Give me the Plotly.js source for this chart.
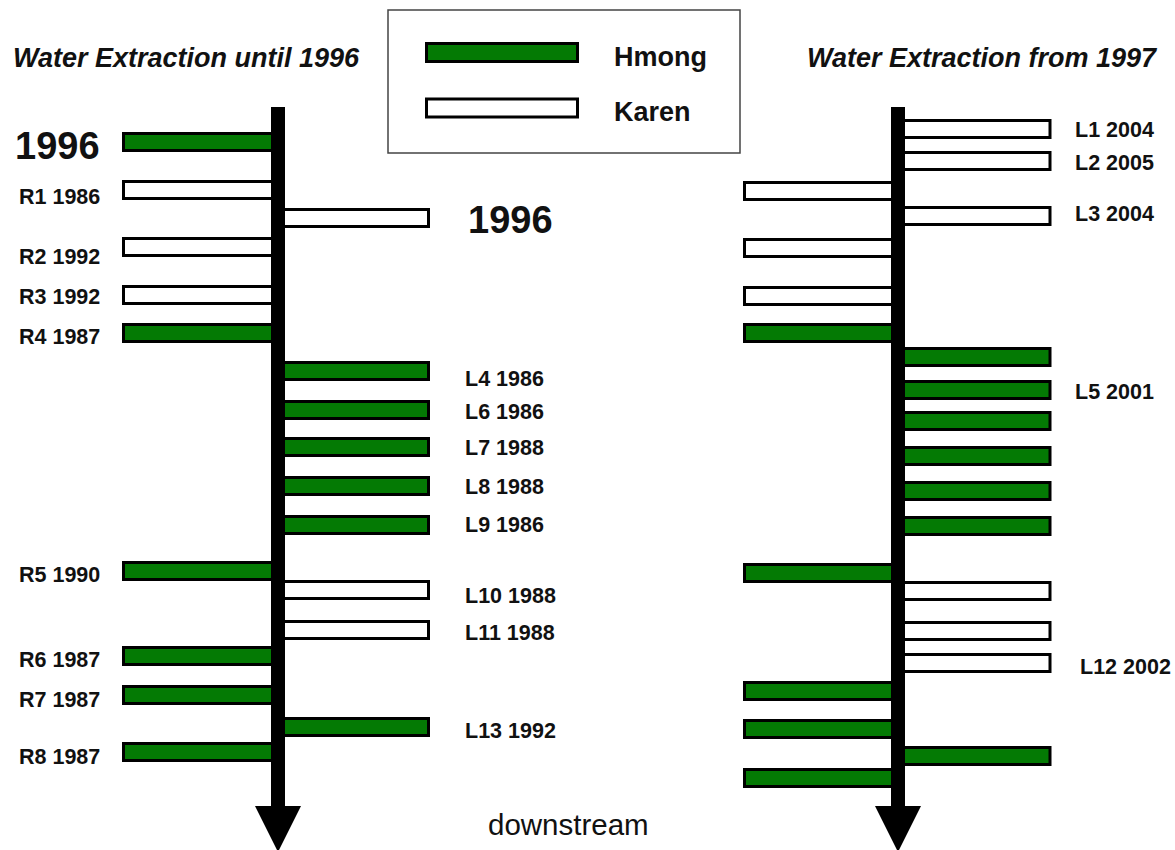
<!DOCTYPE html>
<html>
<head>
<meta charset="utf-8">
<script src="https://cdn.plot.ly/plotly-3.0.1.min.js"></script>
<style>html,body{margin:0;padding:0;background:#fff}#chart{width:1175px;height:850px}</style>
</head>
<body>
<div id="chart"></div>
<script>
// ---- DATA: water extraction points along the river (position downstream) ----
// Panel 1: until 1996
const untilPos    = [142, 190, 218, 247, 295, 333, 371, 410, 447, 486, 525, 571, 590, 630, 656, 695, 727, 752];
const untilBank   = ['R','R','L','R','R','R','L','L','L','L','L','R','L','L','R','R','L','R'];
const untilGroup  = ['Hmong','Karen','Karen','Karen','Karen','Hmong','Hmong','Hmong','Hmong','Hmong','Hmong','Hmong','Karen','Karen','Hmong','Hmong','Hmong','Hmong'];
const untilLabel  = ['1996','R1 1986','1996','R2 1992','R3 1992','R4 1987','L4 1986','L6 1986','L7 1988','L8 1988','L9 1986','R5 1990','L10 1988','L11 1988','R6 1987','R7 1987','L13 1992','R8 1987'];
const untilLabelAt= [146, 197, 220, 257, 297, 337, 379, 412, 448, 487, 525, 575, 596, 633, 660, 700, 731, 757];

// Panel 2: from 1997
const fromPos     = [129, 161, 191, 216, 248, 296, 333, 357, 390, 421, 456, 491, 526, 573, 591, 631, 663, 691, 729, 756, 778];
const fromBank    = ['L','L','R','L','R','R','R','L','L','L','L','L','L','R','L','L','L','R','R','L','R'];
const fromGroup   = ['Karen','Karen','Karen','Karen','Karen','Karen','Hmong','Hmong','Hmong','Hmong','Hmong','Hmong','Hmong','Hmong','Karen','Karen','Karen','Hmong','Hmong','Hmong','Hmong'];
const fromLabel   = ['L1 2004','L2 2005','','L3 2004','','','','','L5 2001','','','','','','','','L12 2002','','','',''];
const fromLabelAt = [130, 163, 191, 214, 248, 296, 333, 357, 392, 421, 456, 491, 526, 573, 591, 631, 667, 691, 729, 756, 778];

const groups = ['Hmong', 'Karen'];
const panelTitles = ['Water Extraction until 1996', 'Water Extraction from 1997'];

// ---- STYLE / LAYOUT ----
const GREEN = '#047a04';
const fillFor = {Hmong: GREEN, Karen: '#ffffff'};
const panels = [
  {pos: untilPos, bank: untilBank, group: untilGroup, label: untilLabel, labelAt: untilLabelAt,
   river: 278, reachLeft: 154.5, reachRight: 150.5, labelLeftX: 102, labelRightX: 463, titleX: 11},
  {pos: fromPos, bank: fromBank, group: fromGroup, label: fromLabel, labelAt: fromLabelAt,
   river: 898, reachLeft: 153.5, reachRight: 152, labelLeftX: 722, labelRightX: 1073, titleX: 805}
];
const SANS = '"Liberation Sans", Arial, sans-serif';

const traces = [];
const annotations = [];
const shapes = [];

panels.forEach((p, pi) => {
  groups.forEach(g => {
    const idx = p.pos.map((_, i) => i).filter(i => p.group[i] === g);
    traces.push({
      type: 'bar', orientation: 'h', name: g, showlegend: false,
      y: idx.map(i => p.pos[i]),
      x: idx.map(i => p.bank[i] === 'R' ? -p.reachLeft : p.reachRight),
      base: p.river, width: 17,
      marker: {color: fillFor[g], line: {color: '#000', width: 3}},
      hoverinfo: 'skip'
    });
  });
  p.label.forEach((t, i) => {
    if (!t) return;
    const big = /^\d{4}$/.test(t);
    const left = p.bank[i] === 'R';
    annotations.push({
      x: left ? p.labelLeftX : p.labelRightX + (big ? 3 : 0) + (t === 'L12 2002' ? 5 : 0),
      y: p.labelAt[i], xref: 'x', yref: 'y',
      text: '<b>' + t + '</b>', showarrow: false,
      xanchor: left ? 'right' : 'left', yanchor: 'middle',
      font: {family: SANS, size: big ? 38 : 21.5, color: '#111'}
    });
  });
  annotations.push({
    x: p.titleX, y: 58, xref: 'x', yref: 'y', xanchor: 'left', yanchor: 'middle',
    text: '<b><i>' + panelTitles[pi] + '</i></b>', showarrow: false,
    font: {family: SANS, size: 27, color: '#111'}
  });
  // river line with arrowhead
  shapes.push({type: 'rect', xref: 'x', yref: 'y', x0: p.river - 7, x1: p.river + 7, y0: 107, y1: 812,
    fillcolor: '#000', line: {width: 0}, layer: 'above'});
  shapes.push({type: 'path', xref: 'x', yref: 'y', layer: 'above',
    path: `M ${p.river - 23} 806 L ${p.river + 23} 806 L ${p.river} 852 Z`,
    fillcolor: '#000', line: {width: 0}});
});

// legend box
shapes.push({type: 'rect', xref: 'x', yref: 'y', x0: 388, x1: 740, y0: 10, y1: 153,
  fillcolor: 'rgba(0,0,0,0)', line: {color: '#444', width: 1.5}});
groups.forEach((g, gi) => {
  const yc = gi === 0 ? 52.5 : 108;
  shapes.push({type: 'rect', xref: 'x', yref: 'y', x0: 426.5, x1: 577.5, y0: yc - 9, y1: yc + 9,
    fillcolor: fillFor[g], line: {color: '#000', width: 3}});
  annotations.push({x: 612, y: yc + 4, xref: 'x', yref: 'y', xanchor: 'left', yanchor: 'middle',
    text: '<b>' + g + '</b>', showarrow: false, font: {family: SANS, size: 27, color: '#111'}});
});
annotations.push({x: 568, y: 824, xref: 'x', yref: 'y', xanchor: 'center', yanchor: 'middle',
  text: 'downstream', showarrow: false, font: {family: SANS, size: 29.5, color: '#111'}});

const layout = {
  width: 1175, height: 850,
  margin: {l: 0, r: 0, t: 0, b: 0, pad: 0},
  paper_bgcolor: '#fff', plot_bgcolor: '#fff',
  barmode: 'overlay', showlegend: false,
  xaxis: {range: [0, 1175], visible: false, fixedrange: true},
  yaxis: {range: [850, 0], visible: false, fixedrange: true},
  shapes, annotations
};
Plotly.newPlot('chart', traces, layout, {displayModeBar: false, staticPlot: true});
</script>
</body>
</html>
